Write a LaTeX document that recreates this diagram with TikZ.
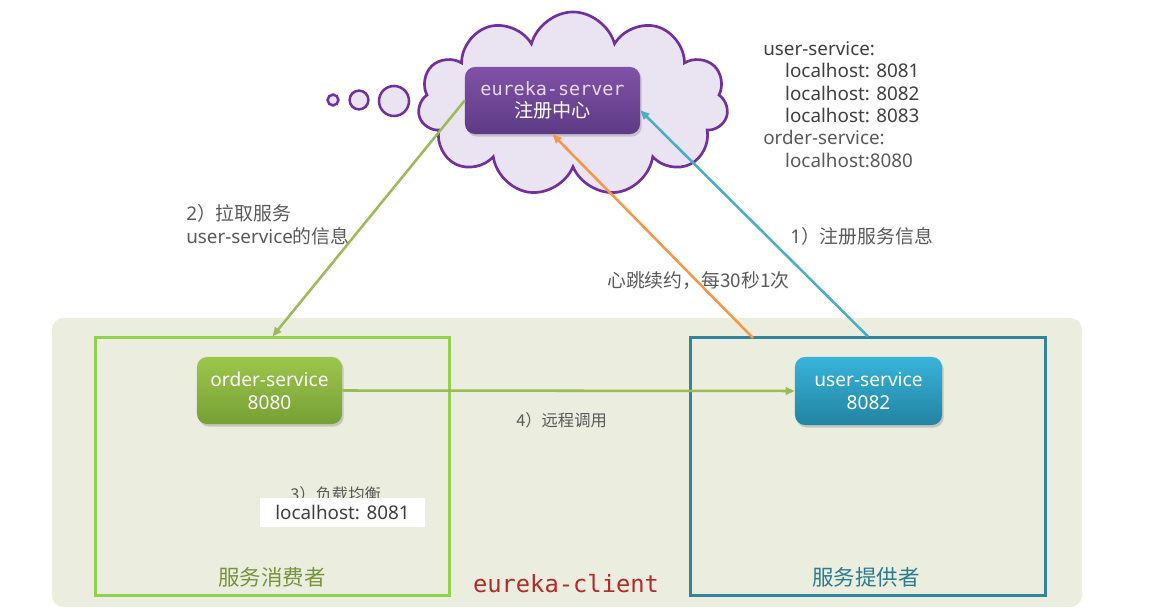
\documentclass[tikz,border=0pt]{standalone}
\usepackage{fontspec}
\setmainfont{Noto Sans}
\setmonofont{DejaVu Sans Mono}
\newfontfamily\cjk{Noto Sans CJK SC}
\usetikzlibrary{arrows.meta,shapes.symbols,shadows}
\definecolor{grpBg}{HTML}{EBEEDF}
\definecolor{consumerGreen}{HTML}{92D050}
\definecolor{providerTeal}{HTML}{31849B}
\definecolor{orderTop}{HTML}{9DC64C}
\definecolor{orderBot}{HTML}{76A034}
\definecolor{userTop}{HTML}{38B4DA}
\definecolor{userBot}{HTML}{2283A2}
\definecolor{eurekaTop}{HTML}{8152A6}
\definecolor{eurekaBot}{HTML}{5D3A86}
\definecolor{eurekaLabel}{HTML}{E6D8F2}
\definecolor{cloudFill}{HTML}{EAE3F2}
\definecolor{cloudLine}{HTML}{7030A0}
\definecolor{pullGreen}{HTML}{9BBB59}
\definecolor{beatOrange}{HTML}{F79646}
\definecolor{regBlue}{HTML}{4BACC6}
\definecolor{textGray}{HTML}{595959}
\definecolor{listDark}{HTML}{3F3F3F}
\definecolor{clientRed}{HTML}{B22A2A}
\definecolor{consumerText}{HTML}{77933C}
\definecolor{providerText}{HTML}{2C7A90}
\begin{document}
\begin{tikzpicture}[x=0.025cm, y=-0.025cm,
    svcNode/.style={rounded corners=0.25cm, text=white, align=center, inner sep=0pt,
        font=\fontsize{13.6pt}{16.3pt}\selectfont,
        drop shadow={shadow xshift=1.2pt, shadow yshift=-1.8pt, opacity=0.35}},
    grpFrame/.style={draw, line width=2.1pt, minimum width=8.85cm, minimum height=6.425cm, inner sep=0pt},
    bubbleDot/.style={circle, draw=cloudLine, fill=cloudFill, line width=1.8pt, inner sep=0pt},
    noteText/.style={text=textGray, inner sep=0pt, font=\fontsize{13.4pt}{16.3pt}\selectfont},
    smallNote/.style={text=textGray, inner sep=0pt, font=\cjk\fontsize{11.6pt}{14pt}\selectfont},
    flowArrow/.style={-{Triangle[length=6.5pt, width=5.5pt]}, line width=1.8pt}]

    \useasboundingbox (0,0) rectangle (1152,609);

    % client area and groups
    \node[fill=grpBg, rounded corners=0.3cm, minimum width=25.75cm, minimum height=7.225cm, inner sep=0pt] (clientArea) at (567,462.5) {};
    \node[grpFrame, draw=consumerGreen] (consumerBox) at (272.5,466.5) {};
    \node[grpFrame, draw=providerTeal] (providerBox) at (868,466.5) {};

    \node[svcNode, top color=orderTop, bottom color=orderBot, minimum width=3.625cm, minimum height=1.675cm] (order) at (269.5,390.5) {order-service\\8080};
    \node[svcNode, top color=userTop, bottom color=userBot, minimum width=3.675cm, minimum height=1.7cm] (user) at (868.5,391) {user-service\\8082};

    % registry cloud
    \node[cloud, cloud puffs=11, aspect=1.75, draw=cloudLine, fill=cloudFill, line width=1.9pt, minimum width=7.75cm, minimum height=4.6cm] (registryCloud) at (573,104) {};
    \node[bubbleDot, minimum size=0.27cm] (bubbleS) at (333,100) {};
    \node[bubbleDot, minimum size=0.47cm] (bubbleM) at (359,100) {};
    \node[bubbleDot, minimum size=0.75cm] (bubbleL) at (394,101) {};
    \node[svcNode, top color=eurekaTop, bottom color=eurekaBot, minimum width=4.375cm, minimum height=1.675cm,
        font=\fontsize{13.6pt}{15.6pt}\selectfont] (eureka) at (552.5,100.5)
        {\textcolor{eurekaLabel}{\ttfamily\fontsize{13.1pt}{15.6pt}\selectfont eureka-server}\\{\cjk 注册中心}};

    % connectors
    \coordinate (beatStart) at (753,338);
    \draw[flowArrow, draw=pullGreen] (eureka.west) -- (consumerBox.north);
    \draw[flowArrow, draw=beatOrange] (beatStart) -- (eureka.south);
    \draw[flowArrow, draw=regBlue] (providerBox.north) -- ([yshift=-7pt]eureka.east);
    \draw[flowArrow, draw=pullGreen] (order.east) -- (user.west);

    % labels
    \node[noteText, anchor=west, align=left] (pullNote) at (186,224.5) {2{\cjk ）拉取服务}\\user-service{\cjk 的信息}};
    \node[noteText, anchor=west] (regNote) at (790,236) {1{\cjk ）注册服务信息}};
    \node[noteText, anchor=west, font=\cjk\fontsize{13.4pt}{16pt}\selectfont] (beatNote) at (607,281) {心跳续约，每30秒1次};
    \node[smallNote, anchor=west] (callNote) at (516,420) {4）远程调用};
    \node[smallNote, anchor=west] (lbNote) at (290,494) {3）负载均衡};
    \node[noteText, text=listDark, fill=white, minimum width=4.125cm, minimum height=0.725cm] (lbTarget) at (342.5,512.5) {localhost: 8081};
    \node[noteText, anchor=west, align=left, font=\fontsize{13.4pt}{15.95pt}\selectfont] (registryList) at (763,104.5)
        {\textcolor{listDark}{user-service:}\\
         \hspace*{15.6pt}\textcolor{listDark}{localhost: 8081}\\
         \hspace*{15.6pt}\textcolor{listDark}{localhost: 8082}\\
         \hspace*{15.6pt}\textcolor{listDark}{localhost: 8083}\\
         order-service:\\
         \hspace*{15.6pt}localhost:8080};

    \node[text=consumerText, font=\cjk\fontsize{15.3pt}{18pt}\selectfont] (consumerLabel) at (272,577) {服务消费者};
    \node[text=providerText, font=\cjk\fontsize{15.3pt}{18pt}\selectfont] (providerLabel) at (866,577) {服务提供者};
    \node[text=clientRed, font=\ttfamily\fontsize{16.9pt}{20pt}\selectfont] (clientLabel) at (566,584) {eureka-client};
\end{tikzpicture}
\end{document}
